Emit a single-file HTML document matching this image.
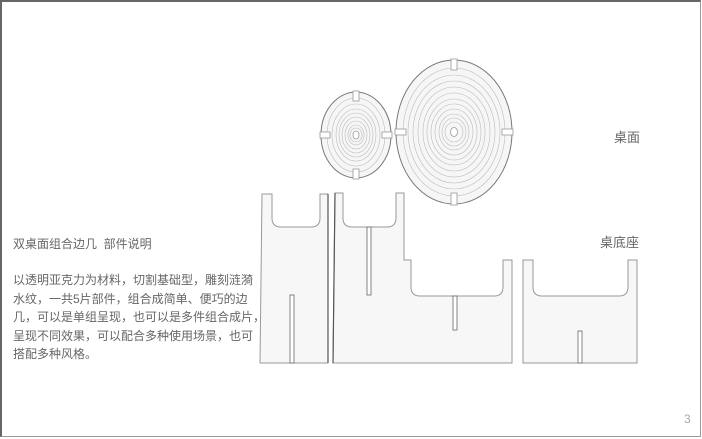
<!DOCTYPE html>
<html><head><meta charset="utf-8"><style>
html,body{margin:0;padding:0;background:#fff;}
#f{position:relative;width:702px;height:439px;overflow:hidden;background:#fff;font-family:"Liberation Sans","Noto Sans CJK SC",sans-serif;}
.t{position:absolute;color:#666;font-size:12px;white-space:nowrap;}
</style></head><body><div id="f">
<div style="position:absolute;left:0;top:0;width:698px;height:434px;border-left:2px solid #666;border-top:2px solid #666;border-right:1px solid #999;border-bottom:1px solid #999;"></div>
<svg width="702" height="439" style="position:absolute;left:0;top:0">
<g fill="#f6f6f6" stroke="#777" stroke-width="1">
<ellipse cx="356" cy="135" rx="35" ry="43"/>
<ellipse cx="454" cy="132" rx="58" ry="72"/>
</g>
<g fill="none" stroke="#bbb" stroke-width="0.6">
<ellipse cx="356" cy="135" rx="29" ry="37"/><ellipse cx="356" cy="135" rx="24" ry="31"/><ellipse cx="356" cy="135" rx="20" ry="26"/><ellipse cx="356" cy="135" rx="17" ry="22"/><ellipse cx="356" cy="135" rx="14" ry="18"/><ellipse cx="356" cy="135" rx="11" ry="14"/><ellipse cx="356" cy="135" rx="8" ry="10"/><ellipse cx="356" cy="135" rx="6" ry="7"/>
<ellipse cx="454" cy="132" rx="51" ry="64"/><ellipse cx="454" cy="132" rx="46" ry="57"/><ellipse cx="454" cy="132" rx="41" ry="51"/><ellipse cx="454" cy="132" rx="36" ry="45"/><ellipse cx="454" cy="132" rx="31" ry="39"/><ellipse cx="454" cy="132" rx="27" ry="33"/><ellipse cx="454" cy="132" rx="23" ry="28"/><ellipse cx="454" cy="132" rx="19" ry="23"/><ellipse cx="454" cy="132" rx="15" ry="18"/><ellipse cx="454" cy="132" rx="12" ry="14"/><ellipse cx="454" cy="132" rx="9" ry="10"/>
</g>
<g fill="#fff" stroke="#999" stroke-width="0.8">
<ellipse cx="356" cy="135" rx="3" ry="4"/><ellipse cx="454" cy="132" rx="3.5" ry="4.5"/>
<rect x="353" y="91" width="6" height="10"/><rect x="353" y="169" width="6" height="10"/><rect x="320" y="132" width="10" height="6"/><rect x="382" y="132" width="10" height="6"/>
<rect x="451" y="59" width="6" height="11"/><rect x="451" y="193" width="6" height="12"/><rect x="395" y="129" width="11" height="6"/><rect x="502" y="129" width="11" height="6"/>
</g>
<g fill="#f7f7f7" stroke="#999" stroke-width="1">
<path d="M262 194 L272 194 L272 218 Q272 227 281 227 L311 227 Q320 227 320 218 L320 194 L328 194 L328 363 L260 363 Z"/>
<path d="M335 193 L343 193 L343 218 Q343 227 352 227 L387 227 Q396 227 396 218 L396 193 L404 193 L404 260 L411 260 L411 287 Q411 296 420 296 L494 296 Q503 296 503 287 L503 260 L512 260 L512 363 L333 363 Z"/>
<path d="M523 260 L533 260 L533 287 Q533 296 542 296 L619 296 Q628 296 628 287 L628 260 L637 260 L637 363 L523 363 Z"/>
</g>
<g fill="#fff" stroke="#666" stroke-width="0.8">
<rect x="290" y="295" width="4" height="68"/><rect x="367" y="227" width="4" height="68"/><rect x="453" y="296" width="4" height="34"/><rect x="578" y="331" width="4" height="32"/>
</g>
<line x1="328" y1="194" x2="328" y2="363" stroke="#555" stroke-width="1.2"/>
<line x1="335" y1="193" x2="333" y2="363" stroke="#555" stroke-width="1.2"/>
</svg>
<div class="t" style="left:13px;top:235px;">双桌面组合边几&nbsp;&nbsp;部件说明</div>
<div class="t" style="left:13px;top:271px;line-height:18.5px;">以透明亚克力为材料，切割基础型，雕刻涟漪<br>水纹，一共5片部件，组合成简单、便巧的边<br>几，可以是单组呈现，也可以是多件组合成片，<br>呈现不同效果，可以配合多种使用场景，也可<br>搭配多种风格。</div>
<div class="t" style="left:614px;top:127px;font-size:13px;">桌面</div>
<div class="t" style="left:600px;top:232px;font-size:13px;">桌底座</div>
<div class="t" style="left:684px;top:412px;color:#aaa;font-size:12px;">3</div>
</div></body></html>
